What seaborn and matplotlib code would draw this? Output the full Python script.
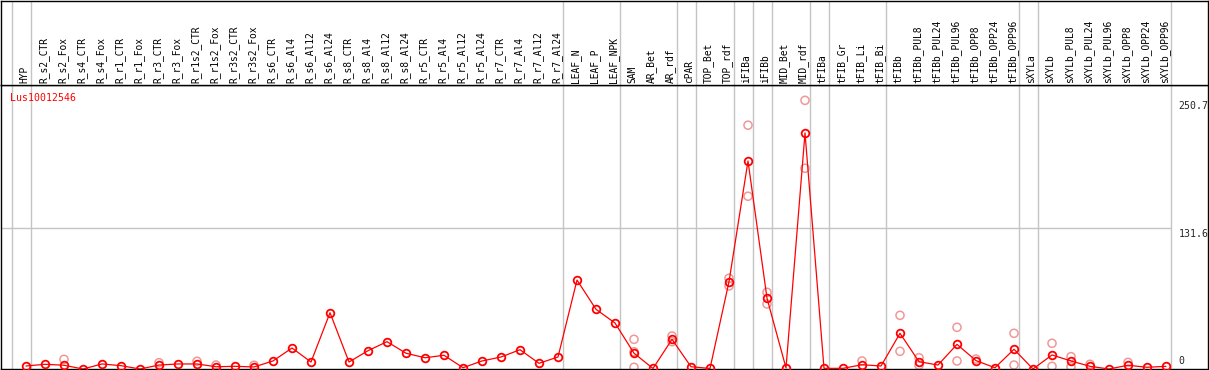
import matplotlib
matplotlib.use("Agg")
import matplotlib.pyplot as plt
import seaborn as sns
import pandas as pd
import numpy as np

categories = [
    "HYP", "R_s2_CTR", "R_s2_Fox", "R_s4_CTR", "R_s4_Fox", "R_r1_CTR", "R_r1_Fox",
    "R_r3_CTR", "R_r3_Fox", "R_r1s2_CTR", "R_r1s2_Fox", "R_r3s2_CTR", "R_r3s2_Fox",
    "R_s6_CTR", "R_s6_Al4", "R_s6_Al12", "R_s6_Al24", "R_s8_CTR", "R_s8_Al4",
    "R_s8_Al12", "R_s8_Al24", "R_r5_CTR", "R_r5_Al4", "R_r5_Al12", "R_r5_Al24",
    "R_r7_CTR", "R_r7_Al4", "R_r7_Al12", "R_r7_Al24", "LEAF_N", "LEAF_P", "LEAF_NPK",
    "SAM", "AR_Bet", "AR_rdf", "cPAR", "TOP_Bet", "TOP_rdf", "iFIBa", "iFIBb",
    "MID_Bet", "MID_rdf", "tFIBa", "tFIB_Gr", "tFIB_Li", "tFIB_Bi", "tFIBb",
    "tFIBb_PUL8", "tFIBb_PUL24", "tFIBb_PUL96", "tFIBb_OPP8", "tFIBb_OPP24",
    "tFIBb_OPP96", "sXYLa", "sXYLb", "sXYLb_PUL8", "sXYLb_PUL24", "sXYLb_PUL96",
    "sXYLb_OPP8", "sXYLb_OPP24", "sXYLb_OPP96",
]

mean_values = [
    2.8, 4.4, 3.5, 0.0, 4.7, 3.1, 0.0, 3.7, 4.7, 4.7, 2.1, 2.5, 1.9,
    7.5, 19.6, 6.5, 52.5, 6.5, 17.1, 25.5, 14.7, 10.5, 12.8, 1.2, 7.5,
    11.2, 18.0, 5.3, 11.2, 83.0, 55.7, 42.9,
    14.7, 0.5, 27.7, 2.1, 0.5, 81.5, 194.1, 66.0, 1.0, 220.3,
    0.6, 0.6, 4.0, 2.8, 33.3, 6.8, 3.7, 23.0, 7.8, 1.2, 18.4,
    0.0, 13.1, 7.5, 2.5, 0.0, 3.5, 1.6, 2.5,
]

# replicate values that are visible apart from the mean (category index -> values)
replicate_values = {
    2: [9.0], 7: [5.9], 9: [7.2], 10: [3.7], 12: [3.5],
    32: [27.7, 16.1, 1.6], 34: [30.8, 25.5], 37: [84.7, 77.5],
    38: [227.5, 161.2], 39: [71.6, 60.7], 41: [250.7, 187.3],
    44: [7.5], 46: [50.1, 16.5], 47: [10.5, 3.5], 49: [38.9, 7.5],
    50: [9.3], 52: [33.3, 3.7], 54: [24.0, 2.5], 55: [11.5, 2.1],
    56: [4.4], 58: [6.2],
}

gene_name = "Lus10012546"
y_tick_values = [0, 131.6, 250.7]
y_tick_labels = ["0", "131.6", "250.7"]
# last category index of each group (group separators)
group_ends = [-1, 0, 28, 31, 34, 35, 37, 38, 39, 41, 42, 45, 52, 53, 60]

sns.set_style("white")
plt.rcParams["font.family"] = ["DejaVu Sans Mono", "DejaVu Sans"]

W, H = 1209, 370
fig = plt.figure(figsize=(W / 100, H / 100), dpi=100)

left = 1 / W
width = 1207 / W
sep = 85 / H
ax = fig.add_axes([left, 1 / H, width, 1 - sep - 1 / H])
hx = fig.add_axes([left, 1 - sep, width, sep - 0.5 / H])

xmin, xmax = -1.316, 62.21
ymax = 265.0
for a in (ax, hx):
    a.set_xlim(xmin, xmax)
    a.set_xticks([])
    a.set_yticks([])
    for s in a.spines.values():
        s.set_color("black")
        s.set_linewidth(1.0)
hx.set_ylim(0, 1)
ax.set_ylim(0, ymax)

gray = "#c4c4c4"
for g in group_ends:
    ax.axvline(g + 0.25, color=gray, lw=1.0, zorder=0)
    hx.axvline(g + 0.25, color=gray, lw=1.0, zorder=0)

ax.hlines(131.6, xmin, 60.25, color=gray, lw=1.0, zorder=0)

df = pd.DataFrame({"pos": np.arange(len(categories)), "value": mean_values})
rep_rows = [(k, v) for k, vals in replicate_values.items() for v in vals]
rep = pd.DataFrame(rep_rows, columns=["pos", "value"])

sns.scatterplot(data=rep, x="pos", y="value", ax=ax, marker="o", s=34,
                facecolors="none", edgecolors="#f09898", linewidth=1.1,
                zorder=2, clip_on=True)
sns.lineplot(data=df, x="pos", y="value", ax=ax, color="red", lw=0.9,
             marker="o", markersize=5.5, markerfacecolor="none",
             markeredgecolor="red", markeredgewidth=1.3, zorder=3)
ax.set_xlim(xmin, xmax)
ax.set_ylim(0, ymax)
ax.set_xlabel("")
ax.set_ylabel("")

for i, c in enumerate(categories):
    hx.text(i - 0.08, 0.025, c, rotation=90, ha="center", va="bottom",
            fontsize=6.9, color="black")

ax.text(-0.85, 0.955, gene_name, transform=ax.get_xaxis_transform(),
        color="red", fontsize=7.1, ha="left", va="center")

for v, lab in zip(y_tick_values, y_tick_labels):
    if v == 0:
        ax.text(60.65, 2.5, lab, ha="left", va="bottom", fontsize=7.1)
    else:
        ax.text(60.65, v - 1.0, lab, ha="left", va="top", fontsize=7.1)

fig.savefig("out.png", dpi=100)
